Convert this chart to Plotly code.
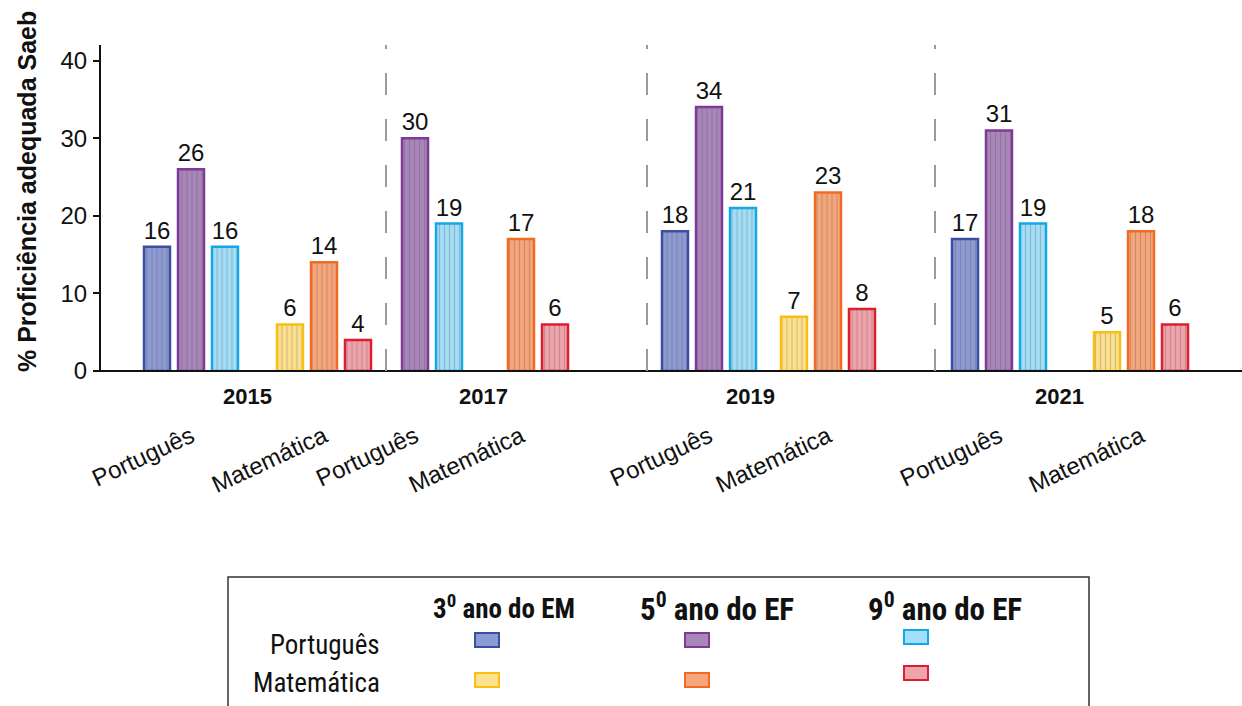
import plotly.graph_objects as go

# ---- data -------------------------------------------------------------
years = ["2015", "2017", "2019", "2021"]
subjects = ["Português", "Matemática"]
levels = ["3<sup>0</sup> ano do EM", "5<sup>0</sup> ano do EF", "9<sup>0</sup> ano do EF"]

# % with adequate proficiency (Saeb), per year
port_3em = [16, None, 18, 17]
port_5ef = [26, 30, 34, 31]
port_9ef = [16, 19, 21, 19]
mat_3em = [6, None, 7, 5]
mat_5ef = [14, 17, 23, 18]
mat_9ef = [4, 6, 8, 6]

# ---- styling ----------------------------------------------------------
W, H = 1242, 706
M_L, M_R, M_T, M_B = 100, 0, 45, 335
PLOT_W = W - M_L - M_R
PLOT_H = H - M_T - M_B
Y_MAX = 42

FONT = "Liberation Sans, Arial, sans-serif"
FONT_NARROW = "Roboto Condensed, Liberation Sans Narrow, Arial Narrow, sans-serif"

# (edge, fill) per school level, for Português and Matemática
port_colors = [("#3a4ea6", "#8e9bd2"), ("#7d3a97", "#a986ba"), ("#14a8e6", "#a3def6")]
mat_colors = [("#f9bf10", "#fde18e"), ("#f26b25", "#f6a67a"), ("#dc1f30", "#efa3ab")]

# pixel extent of each year's block (two categories per block)
year_blocks_px = [(124.5, 390.5), (362, 574), (649.5, 887.5), (928, 1212)]
year_label_px = [248, 483, 751, 1059]
BAR_PX, SLOT_PX = 26, 34


def px_x(p):
    return (p - M_L) / PLOT_W


def px_y(p):
    return (M_T + PLOT_H - p) / PLOT_H


port_series = [port_3em, port_5ef, port_9ef]
mat_series = [mat_3em, mat_5ef, mat_9ef]

fig = go.Figure()

for j, year in enumerate(years):
    ax = "x" if j == 0 else f"x{j + 1}"
    x0, x1 = year_blocks_px[j]
    ppu = (x1 - x0) / 2.0  # pixels per category unit
    width = BAR_PX / ppu
    for k in range(3):
        points = [
            (s, v, c)
            for s, v, c in zip(subjects,
                               [port_series[k][j], mat_series[k][j]],
                               [port_colors[k], mat_colors[k]])
            if v is not None
        ]
        if not points:
            continue
        xs = [p[0] for p in points]
        ys = [p[1] for p in points]
        edges = [p[2][0] for p in points]
        fills = [p[2][1] for p in points]
        fig.add_trace(go.Bar(
            x=xs,
            y=ys,
            xaxis=ax,
            yaxis="y",
            width=width,
            offset=(k - 1) * SLOT_PX / ppu - width / 2,
            marker=dict(
                color=fills,
                line=dict(color=edges, width=2.5),
                pattern=dict(shape="|", fgcolor=edges, bgcolor=fills,
                             fgopacity=0.25, size=5, solidity=0.25),
            ),
            texttemplate="%{y}",
            textposition="outside",
            textfont=dict(family=FONT, size=24, color="#111111"),
            constraintext="none",
            cliponaxis=False,
            showlegend=False,
            hoverinfo="skip",
        ))

layout = dict(
    width=W, height=H,
    margin=dict(l=M_L, r=M_R, t=M_T, b=M_B, pad=0),
    paper_bgcolor="white", plot_bgcolor="rgba(0,0,0,0)",
    barmode="overlay",
    font=dict(family=FONT, color="#111111"),
    yaxis=dict(
        range=[0, Y_MAX], anchor="free", position=0,
        tickvals=[0, 10, 20, 30, 40],
        showgrid=False, zeroline=False,
        showline=True, linecolor="#111111", linewidth=2,
        ticks="outside", ticklen=6, tickwidth=1.5, tickcolor="#111111",
        tickfont=dict(family=FONT, size=24, color="#111111"),
        ticklabelstandoff=1,
    ),
)

for j, year in enumerate(years):
    key = "xaxis" if j == 0 else f"xaxis{j + 1}"
    x0, x1 = year_blocks_px[j]
    layout[key] = dict(
        domain=[px_x(x0), px_x(x1)],
        range=[-0.5, 1.5],
        type="category",
        categoryorder="array", categoryarray=subjects,
        anchor="y",
        showgrid=False, zeroline=False, showline=False,
        ticks="",
        tickangle=-25,
        tickfont=dict(family=FONT, size=24, color="#111111"),
        ticklabelstandoff=46,
    )

fig.update_layout(**layout)

shapes = []
# baseline spanning the whole plot
shapes.append(dict(type="line", xref="paper", yref="paper",
                   x0=px_x(95), x1=1, y0=0, y1=0,
                   line=dict(color="#111111", width=2)))
# dashed separators between years
for sx in [386, 647, 935]:
    shapes.append(dict(type="line", xref="paper", yref="paper",
                       x0=px_x(sx), x1=px_x(sx), y0=0, y1=1,
                       line=dict(color="#9a9a9a", width=2, dash="22px,24px")))

annotations = []
# year labels under the baseline
for year, lx in zip(years, year_label_px):
    annotations.append(dict(xref="paper", yref="paper", x=px_x(lx), y=px_y(396),
                            text=f"<b>{year}</b>", showarrow=False,
                            xanchor="center", yanchor="middle",
                            font=dict(family=FONT, size=22, color="#111111")))

# y-axis title
annotations.append(dict(xref="paper", yref="paper", x=px_x(27), y=px_y(192),
                        text="<b>% Proficiência adequada Saeb</b>", textangle=-90,
                        showarrow=False, xanchor="center", yanchor="middle",
                        font=dict(family=FONT, size=25, color="#111111")))

# ---- legend box ---------------------------------------------------------
shapes.append(dict(type="rect", xref="paper", yref="paper",
                   x0=px_x(228), x1=px_x(1089), y0=px_y(577), y1=px_y(730),
                   line=dict(color="#333333", width=1.5), fillcolor="rgba(0,0,0,0)"))

header_x = [504, 717, 945]
header_size = [27, 31, 31]
for lab, hx, hs in zip(levels, header_x, header_size):
    annotations.append(dict(xref="paper", yref="paper", x=px_x(hx), y=px_y(607),
                            text=f"<b>{lab}</b>", showarrow=False,
                            xanchor="center", yanchor="middle",
                            font=dict(family=FONT_NARROW, size=hs, color="#111111")))

row_y = [645, 683]
for subj, ry in zip(subjects, row_y):
    annotations.append(dict(xref="paper", yref="paper", x=px_x(382), y=px_y(ry),
                            text=subj, showarrow=False,
                            xanchor="right", yanchor="middle",
                            font=dict(family=FONT_NARROW, size=27, color="#111111")))

swatch_x = [487, 697, 916]
swatch_y = [[640, 640, 637], [680, 680, 673]]
for r, palette in enumerate([port_colors, mat_colors]):
    for k, (edge, fill) in enumerate(palette):
        cx, cy = swatch_x[k], swatch_y[r][k]
        shapes.append(dict(type="rect", xref="paper", yref="paper",
                           x0=px_x(cx - 12), x1=px_x(cx + 12),
                           y0=px_y(cy + 7), y1=px_y(cy - 7),
                           line=dict(color=edge, width=2), fillcolor=fill))

fig.update_layout(shapes=shapes, annotations=annotations)

fig.write_html("out.html")
